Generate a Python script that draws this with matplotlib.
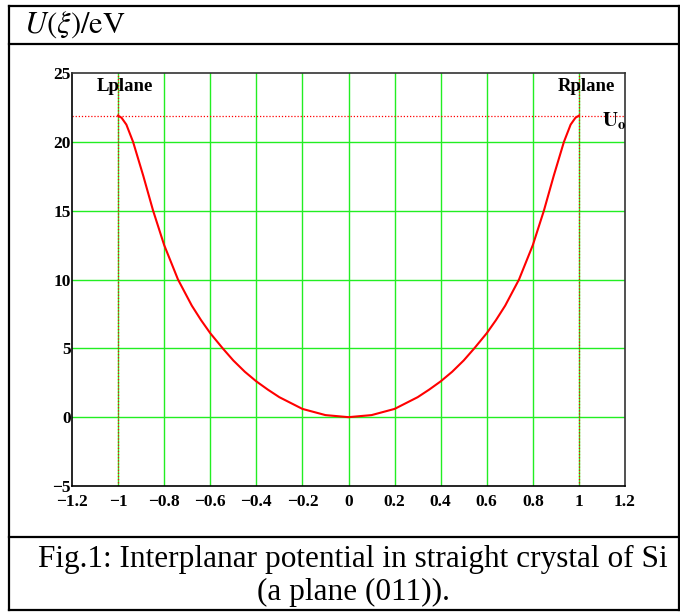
import matplotlib
matplotlib.use("Agg")
import matplotlib.pyplot as plt
from matplotlib.lines import Line2D

plt.rcParams["mathtext.fontset"] = "stix"

# ── data ──────────────────────────────────────────────────────
xi = [-1.0, -0.985, -0.964, -0.935, -0.891, -0.848, -0.8, -0.74, -0.68,
      -0.64, -0.6, -0.546, -0.5, -0.45, -0.4, -0.35, -0.3, -0.2, -0.1, 0.0,
      0.1, 0.2, 0.3, 0.35, 0.4, 0.45, 0.5, 0.546, 0.6, 0.64, 0.68, 0.74,
      0.8, 0.848, 0.891, 0.935, 0.964, 0.985, 1.0]
U = [21.9, 21.75, 21.25, 20.0, 17.55, 15.0, 12.5, 10.0, 8.1,
     7.05, 6.1, 5.0, 4.12, 3.3, 2.6, 2.0, 1.45, 0.6, 0.15, 0.0,
     0.15, 0.6, 1.45, 2.0, 2.6, 3.3, 4.12, 5.0, 6.1, 7.05, 8.1, 10.0,
     12.5, 15.0, 17.55, 20.0, 21.25, 21.75, 21.9]
U0 = 21.9
planes = [-1.0, 1.0]
xticks = [-1.2, -1.0, -0.8, -0.6, -0.4, -0.2, 0.0, 0.2, 0.4, 0.6, 0.8, 1.0, 1.2]
xtick_labels = ["\u22121.2", "\u22121", "\u22120.8", "\u22120.6", "\u22120.4",
                "\u22120.2", "0", "0.2", "0.4", "0.6", "0.8", "1", "1.2"]
yticks = [-5, 0, 5, 10, 15, 20, 25]
ytick_labels = ["\u22125", "0", "5", "10", "15", "20", "25"]

W, H = 680, 612
fig = plt.figure(figsize=(W / 100, H / 100), dpi=100)

# ── frame boxes around header, plot and caption ──────────────
def fx(px):
    return px / W

def fy(py):
    return 1 - py / H

box_lw = 1.6
for (x0, y0, x1, y1) in [(9, 6, 679, 6), (9, 610, 679, 610), (9, 6, 9, 610),
                         (679, 6, 679, 610), (9, 44, 679, 44), (9, 537, 679, 537)]:
    fig.add_artist(Line2D([fx(x0), fx(x1)], [fy(y0), fy(y1)],
                          color="black", lw=box_lw))

fig.text(fx(24), fy(33), r"$U(\xi)/\mathrm{eV}$", fontsize=22,
         ha="left", va="baseline")
fig.text(fx(353), fy(567), "Fig.1: Interplanar potential in straight crystal of Si",
         family="Liberation Serif", fontsize=22.5, ha="center", va="baseline")
fig.text(fx(353), fy(600), "(a plane (011)).",
         family="Liberation Serif", fontsize=22.5, ha="center", va="baseline")

# ── plot ──────────────────────────────────────────────────────
ax = fig.add_axes([72 / W, 1 - 486 / H, 553 / W, 413 / H])
ax.set_xlim(-1.2, 1.2)
ax.set_ylim(-5, 25)

for xv in xticks[1:-1]:
    ax.axvline(xv, color="#22ee22", lw=1.0, zorder=1)
for yv in yticks[1:-1]:
    ax.axhline(yv, color="#22ee22", lw=1.0, zorder=1)

for xp in planes:
    ax.axvline(xp, color="red", lw=0.9, ls=(0, (1, 1.5)), zorder=2)
ax.axhline(U0, color="red", lw=0.9, ls=(0, (1, 1.5)), zorder=2)

ax.plot(xi, U, color="red", lw=1.5, zorder=3)

ax.set_xticks(xticks)
ax.set_xticklabels(xtick_labels)
ax.set_yticks(yticks)
ax.set_yticklabels(ytick_labels)
ax.tick_params(axis="x", length=0, pad=6)
ax.tick_params(axis="y", length=0, pad=1)
for lab in ax.get_xticklabels() + ax.get_yticklabels():
    lab.set_family("Liberation Serif")
    lab.set_fontweight("bold")
    lab.set_fontsize(12.5)

for s in ax.spines.values():
    s.set_linewidth(1.2)
    s.set_color("black")
ax.spines["top"].set_color("#333333")
ax.spines["right"].set_color("#333333")

ax.text(-0.971, 24.0, "Lplane", family="Liberation Serif", fontweight="bold",
        fontsize=13.5, ha="center", va="center")
ax.text(1.033, 24.0, "Rplane", family="Liberation Serif", fontweight="bold",
        fontsize=13.5, ha="center", va="center")
ax.text(1.1, U0 - 0.35, r"$\mathbf{U_o}$", fontsize=15, ha="left",
        va="center", clip_on=False)

fig.savefig("out.png", dpi=100)
